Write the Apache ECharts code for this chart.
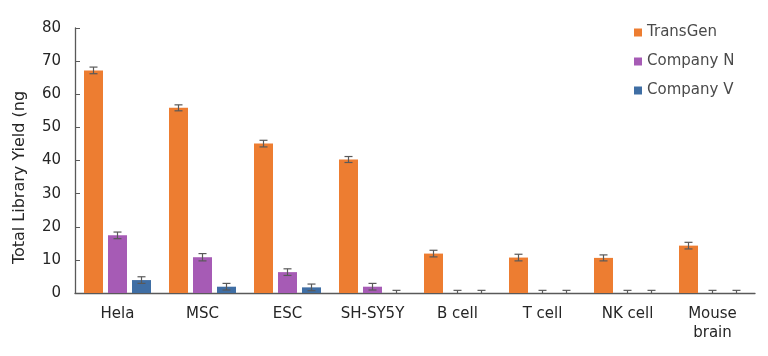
<!DOCTYPE html>
<html><head><meta charset="utf-8">
<script src="https://cdn.jsdelivr.net/npm/echarts@6/dist/echarts.min.js"></script>
<style>html,body{margin:0;padding:0;background:#fff}#c{width:768px;height:356px}</style>
</head><body><div id="c"></div>
<script>
const categories = ['Hela','MSC','ESC','SH-SY5Y','B cell','T cell','NK cell','Mouse\nbrain'];
const transgen = [67.2, 55.9, 45.1, 40.3, 11.9, 10.7, 10.6, 14.3];
const companyN = [17.4, 10.8, 6.3, 1.9, 0, 0, 0, 0];
const companyV = [3.9, 1.9, 1.7, 0, 0, 0, 0, 0];
const errT = [1.0, 0.9, 1.0, 0.9, 1.0, 1.0, 0.9, 1.0];
const errN = [1.0, 1.1, 1.0, 1.0, 0.8, 0.8, 0.8, 0.8];
const errV = [1.0, 1.0, 1.0, 0.8, 0.8, 0.8, 0.8, 0.8];
const yTicks = [0,10,20,30,40,50,60,70,80];

const font = 'DejaVu Sans';
const colors = ['#ED7D31', '#A65BB5', '#3F6EA4'];
const barWidth = 19, barGapPx = 5;

function errSeries(vals, errs, idx) {
  return {
    type: 'custom',
    silent: true,
    z: 5,
    data: vals.map((v, i) => [i, v, errs[i]]),
    renderItem: function (params, api) {
      const i = api.value(0), v = api.value(1), e = api.value(2);
      const off = (idx - 1) * (barWidth + barGapPx);
      const top = api.coord([i, v + e]);
      const bot = api.coord([i, Math.max(0, v - e)]);
      const x = top[0] + off;
      const cw = 4;
      const st = { stroke: '#595959', lineWidth: 1.2 };
      const children = [
        { type: 'line', shape: { x1: x, y1: top[1], x2: x, y2: bot[1] }, style: st },
        { type: 'line', shape: { x1: x - cw, y1: top[1], x2: x + cw, y2: top[1] }, style: st }
      ];
      if (v - e > 0) children.push({ type: 'line', shape: { x1: x - cw, y1: bot[1], x2: x + cw, y2: bot[1] }, style: st });
      return { type: 'group', children: children };
    }
  };
}

const chart = echarts.init(document.getElementById('c'));
chart.setOption({
  animation: false,
  textStyle: { fontFamily: font },
  grid: { left: 75, right: 13, top: 28, bottom: 63 },
  legend: {
    orient: 'vertical', left: 634, top: 24, padding: 0,
    itemWidth: 8, itemHeight: 8, itemGap: 12,
    icon: 'rect',
    textStyle: { fontFamily: font, fontSize: 15, color: '#4a4a4a', lineHeight: 17 },
    data: ['TransGen', 'Company N', 'Company V']
  },
  xAxis: {
    type: 'category', data: categories,
    axisLine: { lineStyle: { color: '#595959', width: 1.3 } },
    axisTick: { show: false },
    axisLabel: { fontFamily: font, fontSize: 15, color: '#262626', margin: 12, lineHeight: 19, interval: 0 }
  },
  yAxis: {
    type: 'value', min: yTicks[0], max: yTicks[yTicks.length - 1], interval: 10,
    name: 'Total Library Yield (ng', nameLocation: 'middle', nameGap: 47,
    nameTextStyle: { fontFamily: font, fontSize: 16, color: '#262626', padding: [0, 34, 0, 0] },
    axisLine: { show: true, lineStyle: { color: '#595959', width: 1.3 } },
    axisTick: { show: true, inside: true, length: 5, lineStyle: { color: '#595959' } },
    splitLine: { show: false },
    axisLabel: { fontFamily: font, fontSize: 15, color: '#262626', margin: 14 }
  },
  series: [
    { name: 'TransGen', type: 'bar', data: transgen, barWidth: barWidth, barGap: (barGapPx / barWidth * 100) + '%',
      itemStyle: { color: colors[0] } },
    { name: 'Company N', type: 'bar', data: companyN, barWidth: barWidth,
      itemStyle: { color: colors[1] } },
    { name: 'Company V', type: 'bar', data: companyV, barWidth: barWidth,
      itemStyle: { color: colors[2] } },
    errSeries(transgen, errT, 0),
    errSeries(companyN, errN, 1),
    errSeries(companyV, errV, 2)
  ]
});
</script></body></html>
